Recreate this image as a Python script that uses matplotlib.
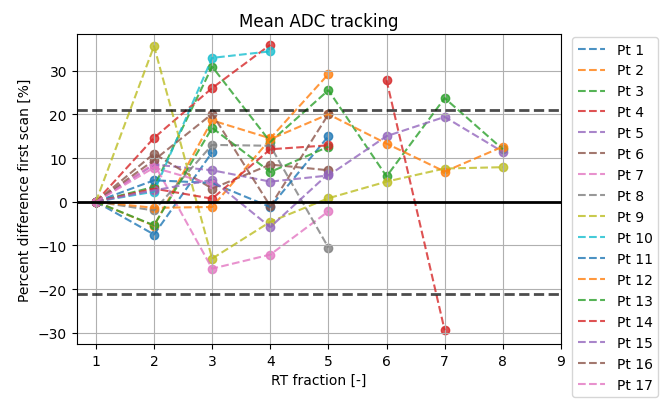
import numpy as np
import matplotlib
matplotlib.use('Agg')
import matplotlib.pyplot as plt

# Fractions RT
fractions = [1, 2, 3, 4, 5, 6, 7, 8]
nan = np.nan

# Différence en % par rapport au premier scan
pt1 = [0, -7.5, 11.3]
pt2 = [0, -5.5, 18.6, 14.5, 29.2]
pt3 = [0, 3.4, 30.9, 13.7, 25.5, 5.8, 23.7, 12.0]
pt4 = [0, 14.6, 26.0, 35.9, nan, 27.8, -29.4]
pt5 = [0, 8.5, 7.2, 4.6, 6.0, 15.0, 19.4, 11.4]
pt6 = [0, 11.0, 3.0, 8.5, 7.2]
pt7 = [0, 8.7, -15.3, -12.1, -2.2]
pt8 = [0, -2.0, 13.0, 12.8, -10.5]
pt9 = [0, 35.6, -13.0, -4.6, 0.8, 4.6, 7.6, 7.9]
pt10 = [0, 2.3, 32.9, 34.4]
pt11 = [0, 4.9, 4.3, -1.2, 15.0]
pt12 = [0, -1.4, -1.2, 14.3, 20.0, 13.3, 6.9, 12.6]
pt13 = [0, -5.4, 16.9, 6.8, 12.6]
pt14 = [0, 3.0, 0.7, 12.0, 12.9]
pt15 = [0, 2.6, 5.0, -5.8, 6.4]
pt16 = [0, 9.5, 20.1, -1.0, 20.0]
pt17 = [0, 7.8, 4.0]

all_pts = [pt1, pt2, pt3, pt4, pt5, pt6, pt7, pt8, pt9, pt10,
           pt11, pt12, pt13, pt14, pt15, pt16, pt17]
labels = ['Pt ' + str(i + 1) for i in range(len(all_pts))]
colors = plt.rcParams['axes.prop_cycle'].by_key()['color']

fig = plt.figure(figsize=(6.67, 4.10), dpi=100)
ax = fig.add_axes([0.115, 0.159, 0.726, 0.756])

for i, vals in enumerate(all_pts):
    c = colors[i % len(colors)]
    x = fractions[:len(vals)]
    ax.plot(x, vals, '--', color=c, alpha=0.8, linewidth=1.5, label=labels[i])
    ax.scatter(x, vals, color=c, alpha=0.8)

# Seuils
ax.axhline(0, color='k', linewidth=2)
ax.axhline(21, color='k', linestyle='--', linewidth=2, alpha=0.7)
ax.axhline(-21, color='k', linestyle='--', linewidth=2, alpha=0.7)

ax.set_xticks(range(1, 10))
ax.set_xlim(0.67, 9)
ax.set_ylim(-32.5, 38.4)
ax.set_xlabel('RT fraction [-]')
ax.set_ylabel('Percent difference first scan [%]')
ax.set_title('Mean ADC tracking')
ax.grid(True)
ax.legend(loc='upper left', bbox_to_anchor=(1.023, 0.99), borderaxespad=0)

fig.savefig('out.png', dpi=100)
